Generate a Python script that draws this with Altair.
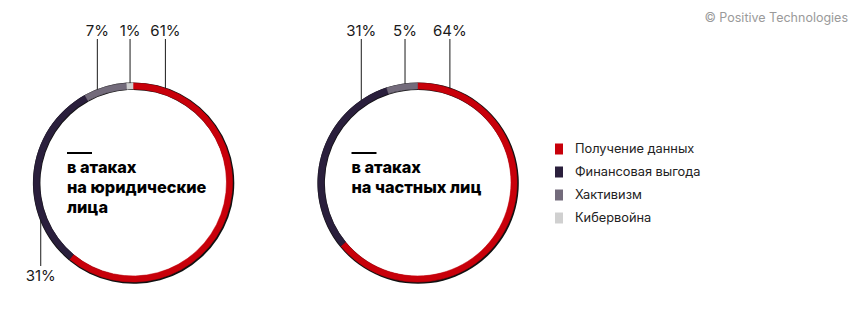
import math
import altair as alt
import pandas as pd

# ---------------- data ----------------
categories = ["Получение данных", "Финансовая выгода", "Хактивизм", "Кибервойна"]
colors = ["#c8000a", "#2a1f3c", "#736b7b", "#d0d0d0"]
legal_values = [61, 31, 7, 1]
private_values = [64, 31, 5, 0]
legal_title = ["в атаках", "на юридические", "лица"]
private_title = ["в атаках", "на частных лиц"]
copyright_text = "© Positive Technologies"

# ---------------- layout ----------------
W, H = 864, 310
R_OUT, R_IN = 99.5, 93.5
centers = [(133, 182.5), (417.5, 182.5)]
# leader anchor angle (deg clockwise from 12 o'clock) and label side, per category
legal_anchor = [(19, "top"), (248, "bottom"), (339, "top"), (358.3, "top")]
private_anchor = [(19, "top"), (325.6, "top"), (352.8, "top"), None]
FONT = "Inter"

xs = alt.Scale(domain=[0, W], range=[0, W])
ys = alt.Scale(domain=[0, H], range=[0, H])
color_scale = alt.Scale(domain=categories, range=colors)


def ring(values, cx, cy):
    df = pd.DataFrame({"cat": categories, "value": values, "idx": list(range(len(categories)))})
    df = df[df["value"] > 0]
    base = alt.Chart(df)
    shadow = base.mark_arc(outerRadius=R_OUT + 1.2, innerRadius=R_IN - 0.3, color="#111111").encode(
        theta=alt.Theta("value:Q", stack=True),
        order=alt.Order("idx:Q"),
        x=alt.value(cx + 0.6),
        y=alt.value(cy + 0.6),
    )
    arcs = base.mark_arc(outerRadius=R_OUT, innerRadius=R_IN, strokeWidth=0.6).encode(
        theta=alt.Theta("value:Q", stack=True),
        order=alt.Order("idx:Q"),
        color=alt.Color("cat:N", scale=color_scale, legend=None),
        stroke=alt.Color("cat:N", scale=color_scale, legend=None),
        x=alt.value(cx),
        y=alt.value(cy),
    )
    return [shadow, arcs]


def label_rows(values, anchors, cx, cy):
    rows = []
    for v, a in zip(values, anchors):
        if a is None or v == 0:
            continue
        ang, side = a
        t = math.radians(ang)
        ax = cx + R_OUT * math.sin(t)
        ay = cy - R_OUT * math.cos(t)
        if side == "top":
            rows.append({"x": ax, "ty": 30.5, "y1": 39, "y2": ay, "label": f"{v}%"})
        else:
            rows.append({"x": ax, "ty": 276, "y1": ay, "y2": 266, "label": f"{v}%"})
    return rows


lab = pd.DataFrame(
    label_rows(legal_values, legal_anchor, *centers[0])
    + label_rows(private_values, private_anchor, *centers[1])
)

leaders = alt.Chart(lab).mark_rule(color="#1a1a1a", strokeWidth=1).encode(
    x=alt.X("x:Q", scale=xs, axis=None),
    y=alt.Y("y1:Q", scale=ys, axis=None),
    y2="y2:Q",
)
labels = alt.Chart(lab).mark_text(font=FONT, fontSize=15, color="#1a1a1a", baseline="middle").encode(
    x=alt.X("x:Q", scale=xs, axis=None),
    y=alt.Y("ty:Q", scale=ys, axis=None),
    text="label:N",
)

# center titles
title_rows = []
for (cx, cy), lines in zip(centers, [legal_title, private_title]):
    for i, ln in enumerate(lines):
        title_rows.append({"x": cx - 66, "y": 173 + i * 20, "t": ln})
tdf = pd.DataFrame(title_rows)
titles = alt.Chart(tdf).mark_text(
    font=FONT, fontSize=16.3, fontWeight=800, color="#000000", align="left", baseline="alphabetic"
).encode(x=alt.X("x:Q", scale=xs, axis=None), y=alt.Y("y:Q", scale=ys, axis=None), text="t:N")

dash = pd.DataFrame({"x": [c[0] - 66 for c in centers], "x2": [c[0] - 41 for c in centers], "y": [153, 153]})
dashes = alt.Chart(dash).mark_rule(color="#000000", strokeWidth=2).encode(
    x=alt.X("x:Q", scale=xs, axis=None), x2="x2:Q", y=alt.Y("y:Q", scale=ys, axis=None)
)

# legend
leg = pd.DataFrame({"cat": categories, "i": list(range(len(categories)))})
leg_sq = alt.Chart(leg).transform_calculate(x="559", y="149 + datum.i * 23").mark_rect(width=8, height=11).encode(
    x=alt.X("x:Q", scale=xs, axis=None),
    y=alt.Y("y:Q", scale=ys, axis=None),
    color=alt.Color("cat:N", scale=color_scale, legend=None),
)
leg_tx = alt.Chart(leg).transform_calculate(x="575", y="149 + datum.i * 23").mark_text(
    font=FONT, fontSize=12.8, color="#222222", align="left", baseline="middle"
).encode(x=alt.X("x:Q", scale=xs, axis=None), y=alt.Y("y:Q", scale=ys, axis=None), text="cat:N")

cp = alt.Chart(pd.DataFrame({"t": [copyright_text], "x": [848], "y": [18]})).mark_text(
    font=FONT, fontSize=12.5, color="#9a9a9a", align="right", baseline="middle"
).encode(x=alt.X("x:Q", scale=xs, axis=None), y=alt.Y("y:Q", scale=ys, axis=None), text="t:N")

layers = ring(legal_values, *centers[0]) + ring(private_values, *centers[1]) + [
    leaders, labels, dashes, titles, leg_sq, leg_tx, cp
]

chart = alt.layer(*layers).properties(
    width=W, height=H, autosize=alt.AutoSizeParams(type="none"), padding=0, background="white"
).configure_view(stroke=None)

chart.save("out.html", embed_options={"renderer": "svg", "actions": False})
